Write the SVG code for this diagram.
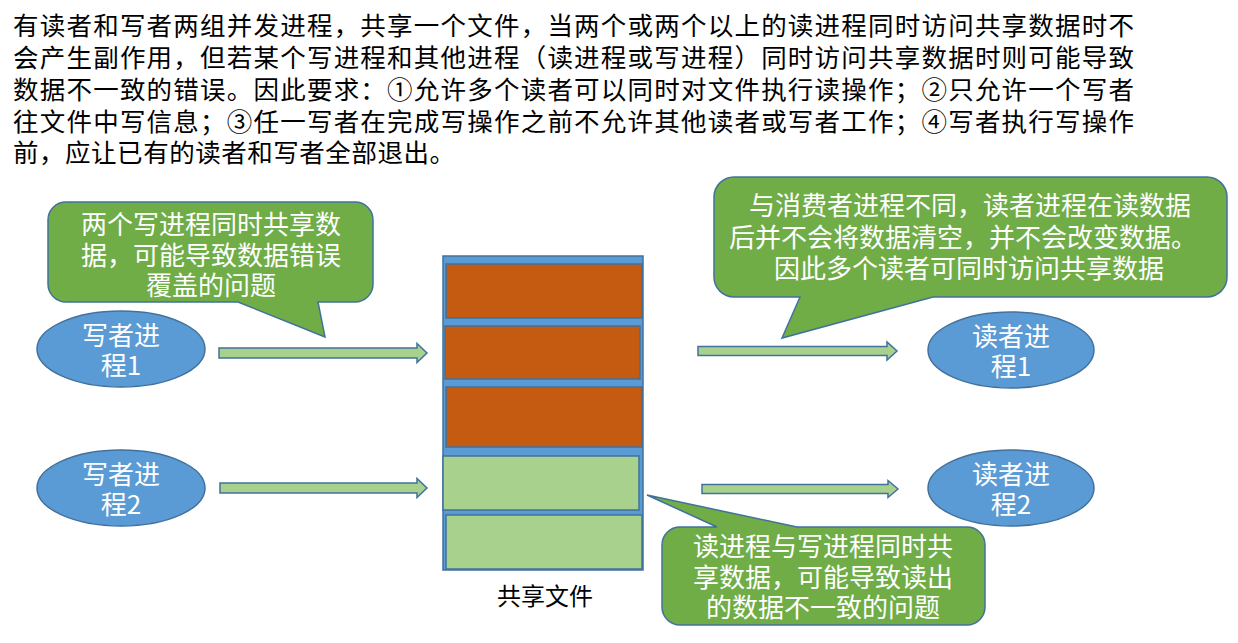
<svg xmlns="http://www.w3.org/2000/svg" width="1238" height="643" viewBox="0 0 1238 643">
<style>
.para{font-family:"Noto Sans CJK SC","Liberation Serif",serif;font-size:25.5px;fill:#000}
.wt{font-family:"Noto Sans CJK SC","Liberation Sans",sans-serif;font-size:26px;fill:#fff;text-anchor:middle}
.lbl{font-family:"Noto Sans CJK SC","Liberation Serif",serif;font-size:24px;fill:#000;text-anchor:middle}
.ell{fill:#5B9BD5;stroke:#41719C;stroke-width:1.5}
.call{fill:#70AD47;stroke:#41719C;stroke-width:1.5}
.arr{fill:#A9D18E;stroke:#41719C;stroke-width:1.5}
.org{fill:#C55A11;stroke:#41719C;stroke-width:1.5}
.grn{fill:#A9D18E;stroke:#41719C;stroke-width:1.5}
.file{fill:#5B9BD5;stroke:#41719C;stroke-width:1.5}
</style>
<g id="intro">
<text class="para" x="13" y="35" textLength="1121" lengthAdjust="spacing">有读者和写者两组并发进程，共享一个文件，当两个或两个以上的读进程同时访问共享数据时不</text>
<text class="para" x="13" y="67" textLength="1121" lengthAdjust="spacing">会产生副作用，但若某个写进程和其他进程（读进程或写进程）同时访问共享数据时则可能导致</text>
<text class="para" x="13" y="99" textLength="1121" lengthAdjust="spacing">数据不一致的错误。因此要求：①允许多个读者可以同时对文件执行读操作；②只允许一个写者</text>
<text class="para" x="13" y="131" textLength="1121" lengthAdjust="spacing">往文件中写信息；③任一写者在完成写操作之前不允许其他读者或写者工作；④写者执行写操作</text>
<text class="para" x="13" y="162" textLength="442" lengthAdjust="spacing">前，应让已有的读者和写者全部退出。</text>
</g>
<g id="callout-writers">
<path class="call" d="M66,202 H355 A18,18 0 0 1 373,220 V284 A18,18 0 0 1 355,302 H318 L325,337 L238,302 H66 A18,18 0 0 1 48,284 V220 A18,18 0 0 1 66,202 Z"/>
<text class="wt" x="211" y="234">两个写进程同时共享数</text>
<text class="wt" x="211" y="265">据，可能导致数据错误</text>
<text class="wt" x="211" y="295">覆盖的问题</text>
</g>
<g id="callout-readers">
<path class="call" d="M734,177 H1207 A20,20 0 0 1 1227,197 V277 A20,20 0 0 1 1207,297 H933 L782,338 L800,297 H734 A20,20 0 0 1 714,277 V197 A20,20 0 0 1 734,177 Z"/>
<text class="wt" x="970" y="215">与消费者进程不同，读者进程在读数据</text>
<text class="wt" x="963" y="247">后并不会将数据清空，并不会改变数据。</text>
<text class="wt" x="969" y="278">因此多个读者可同时访问共享数据</text>
</g>
<g id="callout-rw">
<path class="call" d="M680,527 H717 L647,495 L797,527 H967 A18,18 0 0 1 985,545 V607 A18,18 0 0 1 967,625 H680 A18,18 0 0 1 662,607 V545 A18,18 0 0 1 680,527 Z"/>
<text class="wt" x="823" y="556">读进程与写进程同时共</text>
<text class="wt" x="823" y="587">享数据，可能导致读出</text>
<text class="wt" x="823" y="617">的数据不一致的问题</text>
</g>
<g id="writer1">
<ellipse class="ell" cx="121" cy="349" rx="84" ry="38"/>
<text class="wt" x="121" y="345">写者进</text>
<text class="wt" x="121" y="375">程1</text>
</g>
<g id="writer2">
<ellipse class="ell" cx="121" cy="488" rx="84" ry="38"/>
<text class="wt" x="121" y="484">写者进</text>
<text class="wt" x="121" y="514">程2</text>
</g>
<g id="reader1">
<ellipse class="ell" cx="1011" cy="350" rx="83" ry="38"/>
<text class="wt" x="1011" y="346">读者进</text>
<text class="wt" x="1011" y="376">程1</text>
</g>
<g id="reader2">
<ellipse class="ell" cx="1011" cy="488" rx="83" ry="38"/>
<text class="wt" x="1011" y="484">读者进</text>
<text class="wt" x="1011" y="514">程2</text>
</g>
<g id="shared-file">
<rect class="file" x="443" y="256" width="200" height="314"/>
<rect class="org" x="446" y="264" width="196" height="54"/>
<rect class="org" x="445" y="326" width="195" height="53"/>
<rect class="org" x="446" y="387" width="196" height="60"/>
<rect class="grn" x="443" y="456" width="196" height="54"/>
<rect class="grn" x="446" y="515" width="196" height="54"/>
<text class="lbl" x="545" y="605">共享文件</text>
</g>
<g id="connectors">
<polygon class="arr" points="219,348 417,348 417,343.5 427,353 417,362.5 417,358 219,358"/>
<polygon class="arr" points="220,483 417,483 417,478.5 427,488 417,497.5 417,493 220,493"/>
<polygon class="arr" points="698,346.5 887,346.5 887,342 897,351 887,360 887,355.5 698,355.5"/>
<polygon class="arr" points="702,484.5 888,484.5 888,480.5 898,489 888,497.5 888,493.5 702,493.5"/>
</g>
</svg>
